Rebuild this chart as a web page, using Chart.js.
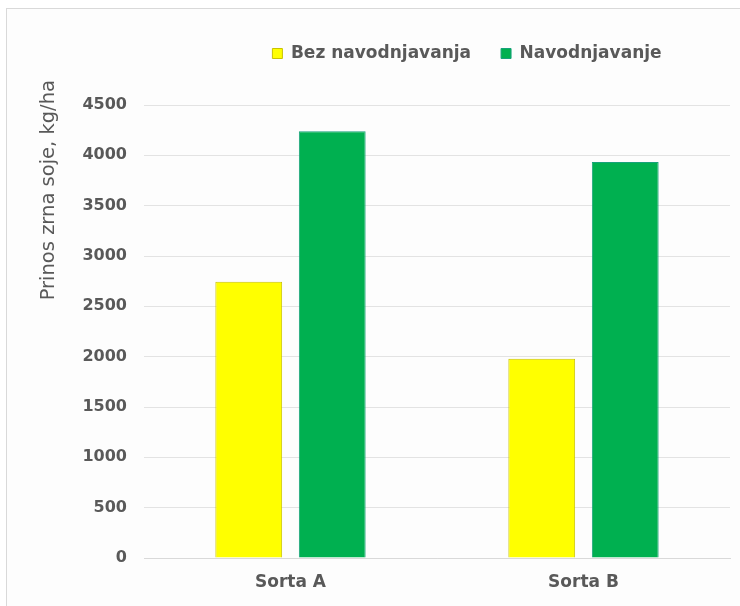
<!DOCTYPE html>
<html>
<head>
<meta charset="utf-8">
<script src="https://cdn.jsdelivr.net/npm/chart.js@4/dist/chart.umd.min.js"></script>
<style>
  html, body { margin: 0; padding: 0; background: #fff; }
  #okvir { position: absolute; left: 6px; top: 8px; width: 734px; height: 598px;
           border-left: 1px solid #d9d9d9; border-top: 1px solid #d9d9d9; background: #fdfdfd; }
  #grafik { position: absolute; left: 0; top: 0; }
</style>
</head>
<body>
<div id="okvir"></div>
<canvas id="grafik" width="740" height="606"></canvas>
<script>
// podaci
const sorte = ["Sorta A", "Sorta B"];
const bezNavodnjavanja = [2745, 1980];
const navodnjavanje = [4240, 3935];
const yMax = 4500;
const yKorak = 500;
const naslovY = "Prinos zrna soje, kg/ha";

const siva = "#595959";

// naslov y ose, poravnat uz vrh kao u originalu
const naslovPlugin = {
  id: "naslovY",
  afterDraw(chart) {
    const ctx = chart.ctx;
    ctx.save();
    ctx.translate(49, 80);
    ctx.rotate(-Math.PI / 2);
    ctx.font = "19.5px 'DejaVu Sans'";
    ctx.fillStyle = siva;
    ctx.textAlign = "right";
    ctx.textBaseline = "middle";
    ctx.fillText(naslovY, 0, 0);
    ctx.restore();
  }
};

// legenda je u originalu pomerena udesno i navise
const legendaPlugin = {
  id: "legendaPomeraj",
  afterLayout(chart) {
    chart.legend.left += 102;
    chart.legend.right += 102;
    chart.legend.top -= 33;
    chart.legend.bottom -= 33;
  }
};

new Chart(document.getElementById("grafik"), {
  type: "bar",
  data: {
    labels: sorte,
    datasets: [
      {
        label: "Bez navodnjavanja",
        data: bezNavodnjavanja,
        backgroundColor: "#ffff00",
        borderColor: "#c9c200",
        borderWidth: 1
      },
      {
        label: "Navodnjavanje",
        data: navodnjavanje,
        backgroundColor: "#00b050",
        borderColor: "#17a27a",
        borderWidth: 1
      }
    ]
  },
  options: {
    responsive: false,
    animation: false,
    categoryPercentage: 0.57,
    barPercentage: 0.8,
    layout: { padding: { top: 48, right: 10, bottom: 8, left: 0 } },
    plugins: {
      tooltip: { enabled: false },
      legend: {
        position: "top",
        labels: {
          boxWidth: 10,
          boxHeight: 10,
          padding: 30,
          color: siva,
          font: { family: "'DejaVu Sans'", size: 17, weight: "bold" }
        }
      }
    },
    scales: {
      x: {
        grid: { display: false, drawTicks: false },
        border: { color: "#d9d9d9" },
        ticks: {
          color: siva,
          padding: 14,
          font: { family: "'DejaVu Sans'", size: 17, weight: "bold" }
        },
        afterFit: s => { s.height = 40; }
      },
      y: {
        min: 0,
        max: yMax,
        grid: { color: "#e3e3e3", drawTicks: false },
        border: { display: false },
        ticks: {
          stepSize: yKorak,
          color: siva,
          padding: 17,
          font: { family: "'DejaVu Sans'", size: 16, weight: "bold" },
          callback: v => String(v)
        },
        afterFit: s => { s.width = 144; }
      }
    }
  },
  plugins: [naslovPlugin, legendaPlugin]
});
</script>
</body>
</html>
